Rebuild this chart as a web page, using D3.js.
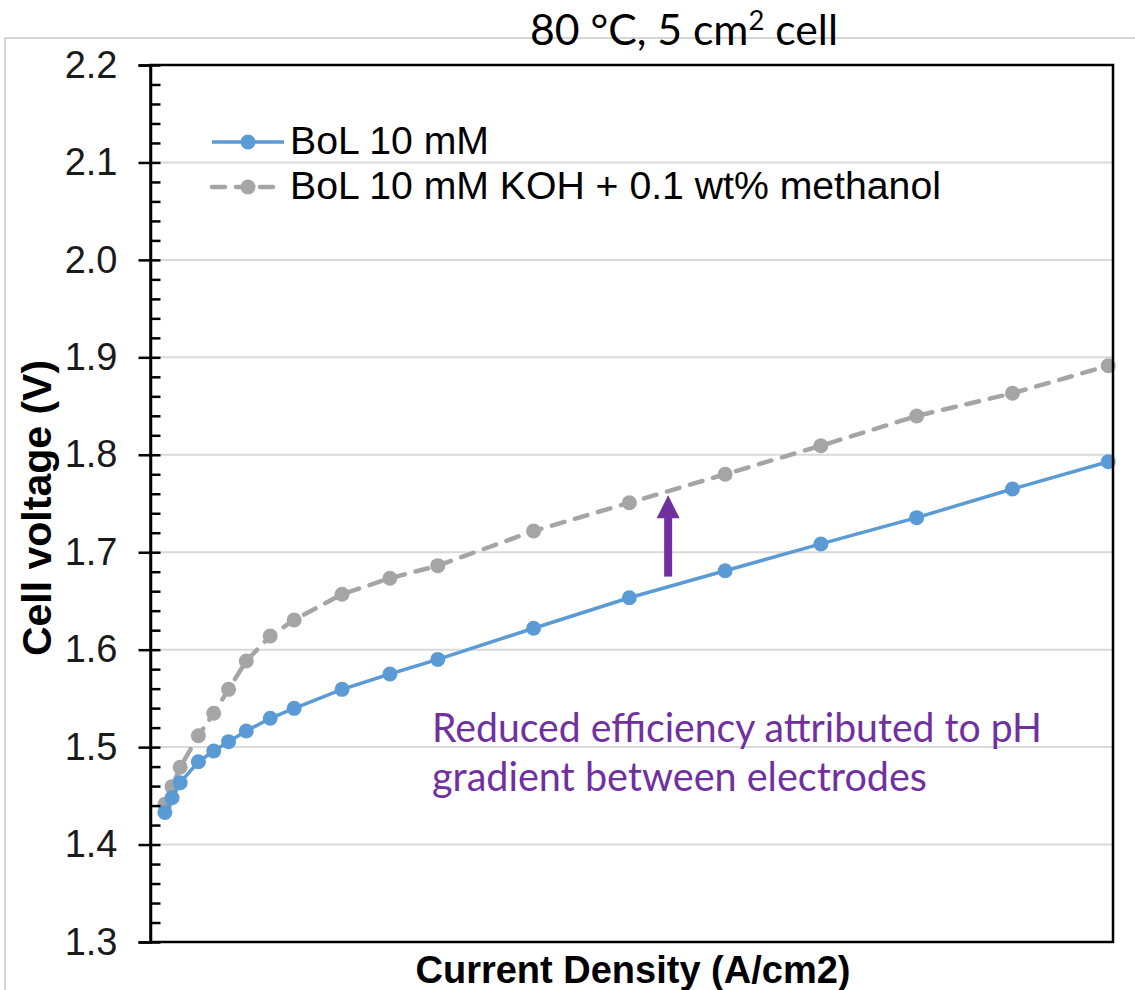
<!DOCTYPE html>
<html>
<head>
<meta charset="utf-8">
<script src="https://cdn.jsdelivr.net/npm/d3@7"></script>
<style>
  html, body { margin: 0; padding: 0; background: #ffffff; }
  svg { display: block; }
</style>
</head>
<body>
<div id="chart"></div>
<script>
// ---- data ----
const currentDensity = [0.03, 0.045, 0.062, 0.1, 0.132, 0.163, 0.2, 0.25, 0.3, 0.4, 0.5, 0.6, 0.8, 1.0, 1.2, 1.4, 1.6, 1.8, 2.0];
const voltageBoL10mM = [1.433, 1.448, 1.4635, 1.485, 1.496, 1.5056, 1.5165, 1.5296, 1.5398, 1.5593, 1.575, 1.590, 1.622, 1.6533, 1.681, 1.7085, 1.7355, 1.7649, 1.7929];
const voltageKOHMethanol = [1.4413, 1.4594, 1.4793, 1.5117, 1.5347, 1.5593, 1.5884, 1.614, 1.6305, 1.6569, 1.6733, 1.6862, 1.7218, 1.7508, 1.78, 1.8093, 1.8398, 1.8631, 1.8914];
const seriesNames = ["BoL 10 mM", "BoL 10 mM KOH + 0.1 wt% methanol"];
const yMajorTicks = [1.3, 1.4, 1.5, 1.6, 1.7, 1.8, 1.9, 2.0, 2.1, 2.2];
const yTickLabels = ["1.3", "1.4", "1.5", "1.6", "1.7", "1.8", "1.9", "2.0", "2.1", "2.2"];
const yMinorTicks = d3.range(1.3, 2.2001, 0.02);
const xDomain = [0, 2.01];
const yDomain = [1.3, 2.2];
const titleText = ["80 °C, 5 cm", "2", " cell"];
const annotationLines = ["Reduced efficiency attributed to pH", "gradient between electrodes"];
const arrowCurrent = 1.081;       // A/cm2 position of the arrow
const arrowVoltage = [1.675, 1.7585]; // from -> to

// ---- layout ----
const W = 1135, H = 990;
const plot = { left: 150.5, right: 1113, top: 65, bottom: 942 };
const colors = { blue: "#5B9BD5", gray: "#A5A5A5", grid: "#D9D9D9", purple: "#7030A0" };

const svg = d3.select("#chart").append("svg").attr("width", W).attr("height", H);
svg.append("rect").attr("width", W).attr("height", H).attr("fill", "#fff");

// outer chart frame (light gray)
svg.append("path").attr("d", `M5,${H} L5,38 L${W},38`).attr("fill", "none")
  .attr("stroke", "#c9c9c9").attr("stroke-width", 1.5);

const x = d3.scaleLinear().domain(xDomain).range([plot.left, plot.right]);
const y = d3.scaleLinear().domain(yDomain).range([plot.bottom, plot.top]);

// gridlines
svg.append("g").selectAll("line").data(yMajorTicks.filter(v => v > 1.31 && v < 2.19)).join("line")
  .attr("x1", plot.left).attr("x2", plot.right)
  .attr("y1", d => y(d)).attr("y2", d => y(d))
  .attr("stroke", colors.grid).attr("stroke-width", 2);

// series
const series = [
  { name: seriesNames[0], values: voltageBoL10mM, color: colors.blue, dash: null, width: 3.5 },
  { name: seriesNames[1], values: voltageKOHMethanol, color: colors.gray, dash: "13 11", width: 4.5 }
];
const line = d3.line().x(d => x(d[0])).y(d => y(d[1]));

series.slice().reverse().forEach(s => {
  const pts = currentDensity.map((c, i) => [c, s.values[i]]);
  svg.append("path").datum(pts).attr("d", line).attr("fill", "none")
    .attr("stroke", s.color).attr("stroke-width", s.width)
    .attr("stroke-dasharray", s.dash).attr("stroke-linecap", s.dash ? "round" : "butt");
  svg.append("g").selectAll("circle").data(pts).join("circle")
    .attr("cx", d => x(d[0])).attr("cy", d => y(d[1])).attr("r", 7.5)
    .attr("fill", s.color);
});

// plot frame
svg.append("rect").attr("x", plot.left).attr("y", plot.top)
  .attr("width", plot.right - plot.left).attr("height", plot.bottom - plot.top)
  .attr("fill", "none").attr("stroke", "#000").attr("stroke-width", 2.5);

// y axis major (outside, labelled)
const yAxis = d3.axisLeft(y).tickValues(yMajorTicks).tickSize(12).tickPadding(21)
  .tickFormat((d, i) => yTickLabels[i]);
const gy = svg.append("g").attr("transform", `translate(${plot.left},0)`).call(yAxis);
gy.select(".domain").attr("stroke", "#000").attr("stroke-width", 2.5);
gy.selectAll(".tick line").attr("stroke", "#000").attr("stroke-width", 2.5);
gy.selectAll(".tick text").attr("font-family", "'Liberation Sans', Arial, sans-serif")
  .attr("font-size", 38).attr("fill", "#1a1a1a");

// y axis minor (inside)
const yMinor = d3.axisRight(y).tickValues(yMinorTicks).tickSize(10).tickFormat("");
const gyMinor = svg.append("g").attr("transform", `translate(${plot.left},0)`).call(yMinor);
gyMinor.select(".domain").remove();
gyMinor.selectAll(".tick line").attr("stroke", "#000").attr("stroke-width", 2.5);

// axis titles
svg.append("text").attr("transform", `translate(51,508) rotate(-90)`)
  .attr("text-anchor", "middle").attr("font-family", "'Liberation Sans', Arial, sans-serif")
  .attr("font-weight", "bold").attr("font-size", 41).attr("fill", "#000").text("Cell voltage (V)");
svg.append("text").attr("x", 633).attr("y", 983)
  .attr("text-anchor", "middle").attr("font-family", "'Liberation Sans', Arial, sans-serif")
  .attr("font-weight", "bold").attr("font-size", 38).attr("fill", "#000").text("Current Density (A/cm2)");

// title
const t = svg.append("text").attr("x", 684).attr("y", 45).attr("text-anchor", "middle")
  .attr("font-family", "Lato, 'Open Sans', sans-serif").attr("font-size", 42).attr("fill", "#000");
t.append("tspan").text(titleText[0]);
t.append("tspan").attr("font-size", 27).attr("dy", -15).text(titleText[1]);
t.append("tspan").attr("dy", 15).text(titleText[2]);
t.attr("textLength", 308).attr("lengthAdjust", "spacingAndGlyphs");

// legend
const legendY = [142, 187];
series.forEach((s, i) => {
  const g = svg.append("g");
  g.append("line").attr("x1", 212).attr("x2", 284).attr("y1", legendY[i]).attr("y2", legendY[i])
    .attr("stroke", s.color).attr("stroke-width", s.width)
    .attr("stroke-dasharray", s.dash).attr("stroke-linecap", s.dash ? "round" : "butt");
  g.append("circle").attr("cx", 248).attr("cy", legendY[i]).attr("r", 7.5).attr("fill", s.color);
  g.append("text").attr("x", 290).attr("y", legendY[i] + 12)
    .attr("font-family", "'Liberation Sans', Arial, sans-serif").attr("font-size", 39.2)
    .attr("fill", "#000").text(s.name);
});

// annotation text
const annBaselines = [742, 791];
const annLengths = [610, 495];
annotationLines.forEach((txt, i) => {
  svg.append("text").attr("x", 432).attr("y", annBaselines[i])
    .attr("font-family", "Lato, 'Open Sans', sans-serif").attr("font-size", 41)
    .attr("fill", colors.purple)
    .attr("textLength", annLengths[i]).attr("lengthAdjust", "spacingAndGlyphs")
    .text(txt);
});

// arrow
const ax = x(arrowCurrent), ay0 = y(arrowVoltage[0]), ay1 = y(arrowVoltage[1]);
svg.append("line").attr("x1", ax).attr("x2", ax).attr("y1", ay0).attr("y2", ay1 + 20)
  .attr("stroke", colors.purple).attr("stroke-width", 8);
svg.append("path").attr("d", `M${ax - 11.5},${ay1 + 23} L${ax},${ay1} L${ax + 11.5},${ay1 + 23} Z`)
  .attr("fill", colors.purple);
</script>
</body>
</html>
